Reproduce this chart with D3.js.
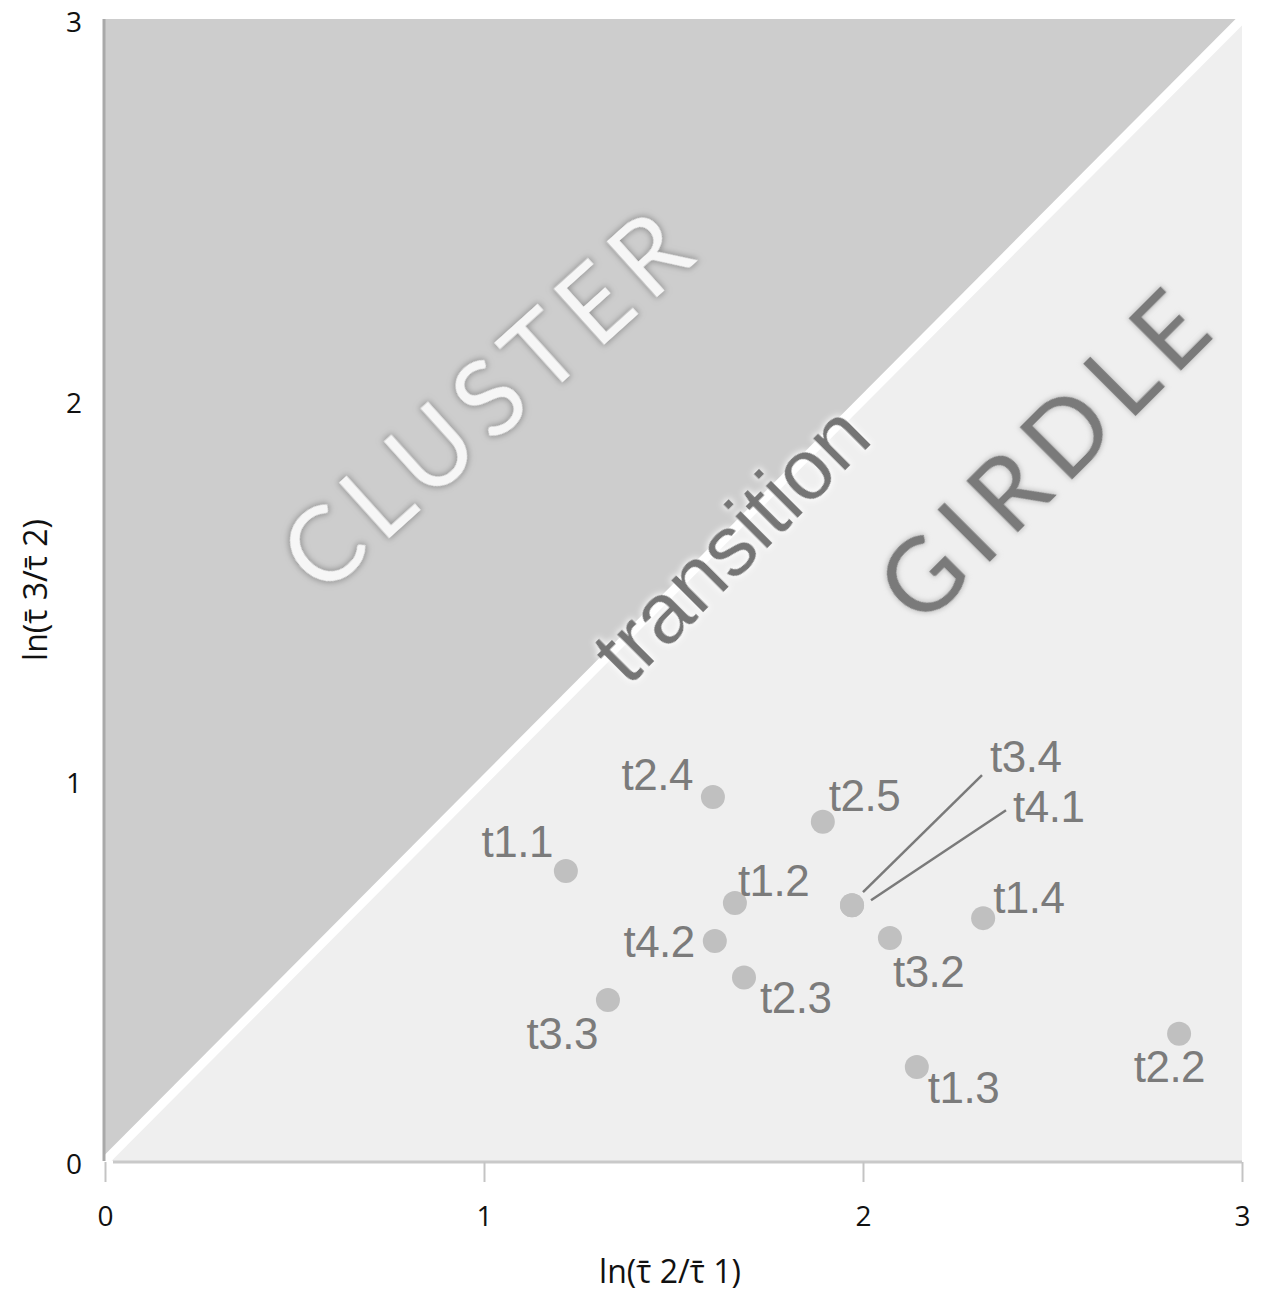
<!DOCTYPE html>
<html>
<head>
<meta charset="utf-8">
<script src="https://cdn.jsdelivr.net/npm/d3@7/dist/d3.min.js"></script>
<style>
  html, body { margin: 0; padding: 0; background: #fff; }
  svg { display: block; }
</style>
</head>
<body>
<svg id="chart" width="1263" height="1293"></svg>
<script>
// ---- data ----
const sampleNames = ["t1.1","t2.4","t2.5","t1.2","t3.4","t4.1","t4.2","t2.3","t3.3","t3.2","t1.4","t1.3","t2.2"];
const xValues     = [1.216, 1.604, 1.894, 1.662, 1.971, 1.971, 1.609, 1.686, 1.327, 2.071, 2.317, 2.142, 2.834];
const yValues     = [0.762, 0.956, 0.891, 0.678, 0.672, 0.672, 0.578, 0.482, 0.423, 0.586, 0.638, 0.247, 0.334];
const xTickValues = [0, 1, 2, 3];
const yTickValues = [0, 1, 2, 3];
const regionNames = ["CLUSTER", "transition", "GIRDLE"];
const xTitle = "ln(\u03C4\u0304 2/\u03C4\u0304 1)";
const yTitle = "ln(\u03C4\u0304 3/\u03C4\u0304 2)";

// label placement (pixel offsets from the point, anchor)
const labelPlacement = {
  "t1.1": {dx: -13, dy: -14, anchor: "end"},
  "t2.4": {dx: -20, dy: -7,  anchor: "end"},
  "t2.5": {dx: 6,   dy: -11, anchor: "start"},
  "t1.2": {dx: 3,   dy: -7,  anchor: "start"},
  "t3.4": {dx: 138, dy: -133, anchor: "start", leader: [11, -13, 130, -130]},
  "t4.1": {dx: 161, dy: -83, anchor: "start", leader: [19, -5, 154, -95]},
  "t4.2": {dx: -20, dy: 16,  anchor: "end"},
  "t2.3": {dx: 16,  dy: 35,  anchor: "start"},
  "t3.3": {dx: -10, dy: 49,  anchor: "end"},
  "t3.2": {dx: 3,   dy: 49,  anchor: "start"},
  "t1.4": {dx: 10,  dy: -5,  anchor: "start"},
  "t1.3": {dx: 11,  dy: 36,  anchor: "start"},
  "t2.2": {dx: 26,  dy: 48,  anchor: "end"}
};

const svg = d3.select("#chart");
const x = d3.scaleLinear().domain([0, 3]).range([105, 1242]);
const y = d3.scaleLinear().domain([0, 3]).range([1161, 19]);

// filters
const defs = svg.append("defs");
function glow(id, color, blur, opacity) {
  const f = defs.append("filter").attr("id", id)
    .attr("x", "-20%").attr("y", "-20%").attr("width", "140%").attr("height", "140%");
  f.append("feMorphology").attr("in", "SourceAlpha").attr("operator", "dilate").attr("radius", 1).attr("result", "d");
  f.append("feGaussianBlur").attr("in", "d").attr("stdDeviation", blur).attr("result", "b");
  f.append("feFlood").attr("flood-color", color).attr("flood-opacity", opacity);
  f.append("feComposite").attr("in2", "b").attr("operator", "in").attr("result", "g");
  const m = f.append("feMerge");
  m.append("feMergeNode").attr("in", "g");
  m.append("feMergeNode").attr("in", "SourceGraphic");
}
glow("glowDark", "#8a8a8a", 3, 0.9);
glow("glowLight", "#ffffff", 3, 0.95);
glow("glowSoft", "#b8b8b8", 2.5, 0.8);

// regions
const line = d3.line().x(d => x(d[0])).y(d => y(d[1]));
svg.append("path").attr("d", line([[0,0],[3,0],[3,3]]) + "Z").attr("fill", "#efefef");
svg.append("path").attr("d", line([[0,0],[0,3],[3,3]]) + "Z").attr("fill", "#cdcdcd");
// diagonal boundary
svg.append("path").attr("d", line([[0,0],[3,3]]))
  .attr("stroke", "#ffffff").attr("stroke-width", 9).attr("fill", "none");

// axes frame lines
svg.append("line").attr("x1", x(0) - 1).attr("x2", x(0) - 1).attr("y1", y(3)).attr("y2", y(0))
  .attr("stroke", "#a9a9a9").attr("stroke-width", 3);
svg.append("line").attr("x1", x(0) + 8).attr("x2", x(3)).attr("y1", y(0) + 1).attr("y2", y(0) + 1)
  .attr("stroke", "#c9c9c9").attr("stroke-width", 3);

// x axis
const xAxis = d3.axisBottom(x).tickValues(xTickValues).tickSize(20).tickPadding(24).tickFormat(d3.format("d"));
const gx = svg.append("g").attr("transform", `translate(0,${y(0) + 1})`).call(xAxis);
gx.select(".domain").remove();
gx.selectAll(".tick line").attr("stroke", "#c4c4c4").attr("stroke-width", 2);
gx.selectAll(".tick text").attr("font-family", "Open Sans, sans-serif").attr("font-size", 28).attr("fill", "#111");

// y axis
const yAxis = d3.axisLeft(y).tickValues(yTickValues).tickSize(0).tickPadding(23).tickFormat(d3.format("d"));
const gy = svg.append("g").attr("transform", `translate(${x(0)},0)`).call(yAxis);
gy.select(".domain").remove();
gy.selectAll(".tick text").attr("font-family", "Open Sans, sans-serif").attr("font-size", 28)
  .attr("fill", "#111").attr("dy", "0.45em");

// axis titles
svg.append("text").attr("x", 670).attr("y", 1283).attr("text-anchor", "middle")
  .attr("font-family", "Open Sans, sans-serif").attr("font-size", 32).attr("fill", "#111")
  .text(xTitle);
svg.append("text").attr("transform", "translate(47,590) rotate(-90)").attr("text-anchor", "middle")
  .attr("font-family", "Open Sans, sans-serif").attr("font-size", 32).attr("fill", "#111")
  .text(yTitle);

// region labels
svg.append("text").attr("transform", "translate(487,395) rotate(-42)").attr("text-anchor", "middle")
  .attr("dominant-baseline", "central")
  .attr("font-family", "Lato, sans-serif").attr("font-weight", 400).attr("font-size", 104)
  .attr("letter-spacing", 11).attr("fill", "#f6f6f6").attr("filter", "url(#glowDark)").text(regionNames[0]);
svg.append("text").attr("transform", "translate(730,543) rotate(-45)").attr("text-anchor", "middle")
  .attr("dominant-baseline", "central")
  .attr("font-family", "Liberation Sans, sans-serif").attr("font-size", 86)
  .attr("fill", "#747474").attr("filter", "url(#glowLight)").text(regionNames[1]);
svg.append("text").attr("transform", "translate(1045,450) rotate(-45)").attr("text-anchor", "middle")
  .attr("dominant-baseline", "central")
  .attr("font-family", "Lato, sans-serif").attr("font-weight", 400).attr("font-size", 102)
  .attr("letter-spacing", 12).attr("fill", "#7a7a7a").attr("filter", "url(#glowSoft)").text(regionNames[2]);

// points
const pts = sampleNames.map((n, i) => ({name: n, x: xValues[i], y: yValues[i]}));

// leaders
svg.append("g").selectAll("line").data(pts.filter(d => labelPlacement[d.name].leader)).join("line")
  .attr("x1", d => x(d.x) + labelPlacement[d.name].leader[0])
  .attr("y1", d => y(d.y) + labelPlacement[d.name].leader[1])
  .attr("x2", d => x(d.x) + labelPlacement[d.name].leader[2])
  .attr("y2", d => y(d.y) + labelPlacement[d.name].leader[3])
  .attr("stroke", "#7a7a7a").attr("stroke-width", 2.5);

svg.append("g").selectAll("circle").data(pts).join("circle")
  .attr("cx", d => x(d.x)).attr("cy", d => y(d.y)).attr("r", 12).attr("fill", "#c0c0c0");

svg.append("g").selectAll("text").data(pts).join("text")
  .attr("x", d => x(d.x) + labelPlacement[d.name].dx)
  .attr("y", d => y(d.y) + labelPlacement[d.name].dy)
  .attr("text-anchor", d => labelPlacement[d.name].anchor)
  .attr("font-family", "Liberation Sans, sans-serif").attr("font-size", 44)
  .attr("letter-spacing", -0.5).attr("fill", "#7b7b7b").text(d => d.name);
</script>
</body>
</html>
